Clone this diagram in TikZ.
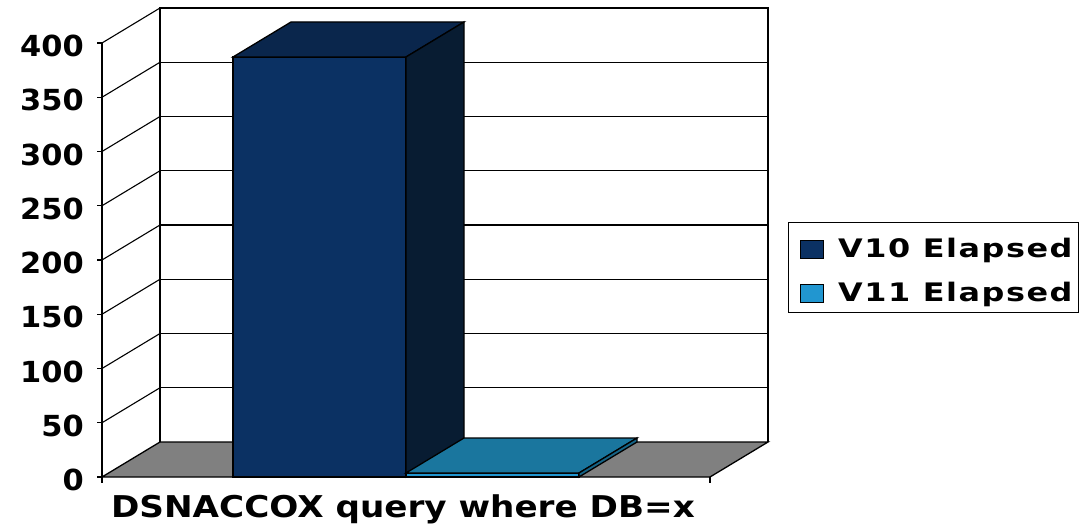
\documentclass[tikz,border=0pt]{standalone}
\usepackage{fontspec}
\setmainfont{DejaVu Sans}
\newfontfamily\axisfont[UprightFont=* Bold,FakeStretch=1.05]{DejaVu Sans}
\newfontfamily\catfont[UprightFont=* Bold,FakeStretch=1.14]{DejaVu Sans}
\newfontfamily\legfont[UprightFont=* Bold,FakeStretch=1.25,LetterSpace=6]{DejaVu Sans}

\definecolor{navyfront}{RGB}{11,49,99}
\definecolor{navytop}{RGB}{10,38,76}
\definecolor{navyside}{RGB}{8,28,50}
\definecolor{skyfront}{RGB}{33,150,208}
\definecolor{skytop}{RGB}{26,118,158}
\definecolor{skyside}{RGB}{21,100,135}
\definecolor{floorgray}{RGB}{128,128,128}

\tikzset{
  frame/.style={line width=1.3pt,black},
  grid/.style={line width=1.1pt,black},
  ylab/.style={anchor=east,inner sep=0pt,font=\axisfont\fontsize{29}{29}\selectfont},
  catlab/.style={inner sep=0pt,font=\catfont\fontsize{30}{30}\selectfont},
  leglab/.style={anchor=west,inner sep=0pt,font=\legfont\fontsize{25.5}{25.5}\selectfont},
  swatch/.style={draw=black,line width=0.8pt,minimum width=23pt,minimum height=18pt,inner sep=0pt}
}

\begin{document}
\begin{tikzpicture}[x=1pt,y=-1pt]
  \useasboundingbox (0,0) rectangle (1079,526);

  % walls
  \foreach \v in {50,100,...,350}
    \draw[grid] (160,{442-1.085*\v}) -- (768,{442-1.085*\v});
  \foreach \v in {50,100,...,400}
    \draw[grid] (102,{477-1.085*\v}) -- (160,{442-1.085*\v});
  \draw[frame] (160,442) -- (160,8) -- (768,8) -- (768,442);
  \draw[frame] (102,477) -- (102,43);

  % floor
  \filldraw[frame,fill=floorgray] (102,477) -- (710,477) -- (768,442) -- (160,442) -- cycle;
  \draw[frame] (102,477) -- (102,483);
  \draw[frame] (710,477) -- (710,483);

  % y axis
  \foreach \v in {0,50,...,400} {
    \draw[frame] (97,{477-1.085*\v}) -- (102,{477-1.085*\v});
    \node[ylab] (y\v) at (84,{480-1.085*\v}) {\v};
  }

  % V10 bar
  \filldraw[frame,fill=navyfront] (233,57) rectangle (406,477);
  \filldraw[frame,fill=navytop] (233,57) -- (406,57) -- (464,22) -- (291,22) -- cycle;
  \filldraw[frame,fill=navyside] (406,57) -- (464,22) -- (464,442) -- (406,477) -- cycle;

  % V11 bar
  \filldraw[frame,fill=skyfront] (406,473) rectangle (579,477);
  \filldraw[frame,fill=skytop] (406,473) -- (579,473) -- (637,438) -- (464,438) -- cycle;
  \filldraw[frame,fill=skyside] (579,473) -- (637,438) -- (637,442) -- (579,477) -- cycle;

  \node[catlab] (cat) at (403,509) {DSNACCOX query where DB=x};

  % legend
  \draw[line width=1pt] (788,223) rectangle (1078,313);
  \node[swatch,fill=navyfront] (sw10) at (812,249) {};
  \node[swatch,fill=skyfront] (sw11) at (812,293) {};
  \node[leglab] (lab10) at (838,250) {V10 Elapsed};
  \node[leglab] (lab11) at (838,294) {V11 Elapsed};
\end{tikzpicture}
\end{document}
